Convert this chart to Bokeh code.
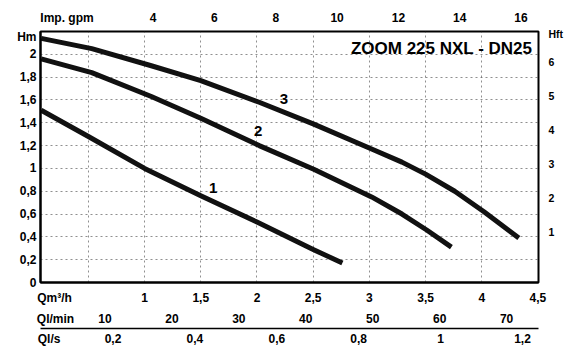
from bokeh.plotting import figure
from bokeh.models import LinearAxis, Range1d, FixedTicker, CustomJSTickFormatter, Label
from bokeh.embed import file_html
from bokeh.resources import INLINE

# ---- data ----
q1 = [0.08, 0.5, 1.0, 1.5, 2.0, 2.5, 2.76]
h1 = [1.51, 1.28, 1.00, 0.76, 0.53, 0.29, 0.17]

q2 = [0.08, 0.53, 1.06, 1.5, 2.02, 2.51, 3.02, 3.29, 3.51, 3.73]
h2 = [1.96, 1.84, 1.63, 1.44, 1.20, 0.99, 0.75, 0.60, 0.46, 0.31]

q3 = [0.08, 0.53, 1.06, 1.5, 2.02, 2.5, 3.02, 3.29, 3.5, 3.76, 4.02, 4.33]
h3 = [2.14, 2.05, 1.90, 1.77, 1.58, 1.39, 1.17, 1.055, 0.95, 0.80, 0.62, 0.39]

curve_names = ["1", "2", "3"]
title_text = "ZOOM 225 NXL - DN25"

h_ticks = [0, 0.2, 0.4, 0.6, 0.8, 1, 1.2, 1.4, 1.6, 1.8, 2]
q_ticks = [1, 1.5, 2, 2.5, 3, 3.5, 4, 4.5]
q_grid = [0.5, 1, 1.5, 2, 2.5, 3, 3.5, 4]
gpm_ticks = [4, 6, 8, 10, 12, 14, 16]
lmin_ticks = [10, 20, 30, 40, 50, 60, 70]
ls_ticks = [0.2, 0.4, 0.6, 0.8, 1, 1.2]
ft_ticks = [1, 2, 3, 4, 5, 6]

# axis names, shown in the tick rows as in the original sheet
name_h, name_ft = "Hm", "Hft"
name_gpm, name_q, name_lmin, name_ls = "Imp. gpm", "Qm³/h", "Ql/min", "Ql/s"

FONT = "Liberation Sans"
comma = CustomJSTickFormatter(code="return String(Math.round(tick*100)/100).replace('.', ',');")

p = figure(width=568, height=353, output_backend="svg", toolbar_location=None,
           x_range=Range1d(0.074, 4.505), y_range=Range1d(0, 2.2),
           min_border_left=40, min_border_right=30, min_border_top=31, min_border_bottom=71,
           background_fill_color="white", border_fill_color="white")
p.outline_line_color = "black"
p.outline_line_width = 2

p.extra_x_ranges = {"gpm": Range1d(0.326, 16.57), "lmin": Range1d(0.36, 74.77),
                    "ls": Range1d(0.023, 1.239)}
p.extra_y_ranges = {"ft": Range1d(-0.482, 6.894)}


def style(ax, size="12px", standoff=4, line=True, lw=2):
    ax.major_tick_out = 0
    ax.major_tick_in = 0
    ax.minor_tick_out = 0
    ax.minor_tick_in = 0
    ax.major_label_standoff = standoff
    ax.major_label_text_font = FONT
    ax.major_label_text_font_style = "bold"
    ax.major_label_text_font_size = size
    ax.major_label_text_color = "black"
    if line:
        ax.axis_line_color = "black"
        ax.axis_line_width = lw
    else:
        ax.axis_line_color = None


# primary axes
xa = p.xaxis[0]
xa.ticker = FixedTicker(ticks=[0.199] + q_ticks)
xa.formatter = comma
xa.major_label_overrides = {0.199: name_q}
style(xa, standoff=8)

ya = p.yaxis[0]
ya.ticker = FixedTicker(ticks=h_ticks + [2.15])
ya.formatter = comma
ya.major_label_overrides = {2.15: name_h}
style(ya, standoff=4)

# grids
p.xgrid.ticker = FixedTicker(ticks=q_grid)
p.ygrid.ticker = FixedTicker(ticks=h_ticks[1:])
for g in (p.xgrid[0], p.ygrid[0]):
    g.grid_line_color = "#333333"
    g.grid_line_alpha = 0.55
    g.grid_line_dash = "2 3"
    g.grid_line_width = 1

# extra axes
top = LinearAxis(x_range_name="gpm", ticker=FixedTicker(ticks=[1.19] + gpm_ticks),
                 major_label_overrides={1.19: name_gpm})
style(top, standoff=7, line=False)
p.add_layout(top, "above")

lmin = LinearAxis(x_range_name="lmin", ticker=FixedTicker(ticks=[2.6] + lmin_ticks),
                  major_label_overrides={2.6: name_lmin})
style(lmin, standoff=4, line=False)
p.add_layout(lmin, "below")

ls = LinearAxis(x_range_name="ls", ticker=FixedTicker(ticks=[0.044] + ls_ticks), formatter=comma,
                major_label_overrides={0.044: name_ls})
style(ls, standoff=3, line=True, lw=1.5)
p.add_layout(ls, "below")

ft = LinearAxis(y_range_name="ft", ticker=FixedTicker(ticks=ft_ticks + [6.835]),
                major_label_overrides={6.835: name_ft})
style(ft, size="10.5px", standoff=10, line=False)
p.add_layout(ft, "right")

# curves
for q, h in ((q1, h1), (q2, h2), (q3, h3)):
    p.line(q, h, line_width=5, line_color="#111111", line_cap="butt", line_join="round")

# curve numbers
for name, (x, y) in zip(curve_names, [(1.61, 0.83), (2.01, 1.33), (2.24, 1.61)]):
    p.add_layout(Label(x=x, y=y, text=name, text_font=FONT, text_font_style="bold",
                       text_font_size="15px", text_align="center", text_baseline="middle",
                       text_color="black"))

# title inside frame
p.add_layout(Label(x=4.45, y=2.05, text=title_text, text_font=FONT, text_font_style="bold",
                   text_font_size="17px", text_align="right", text_baseline="middle",
                   text_color="black"))

open("out.html", "w").write(file_html(p, INLINE))
